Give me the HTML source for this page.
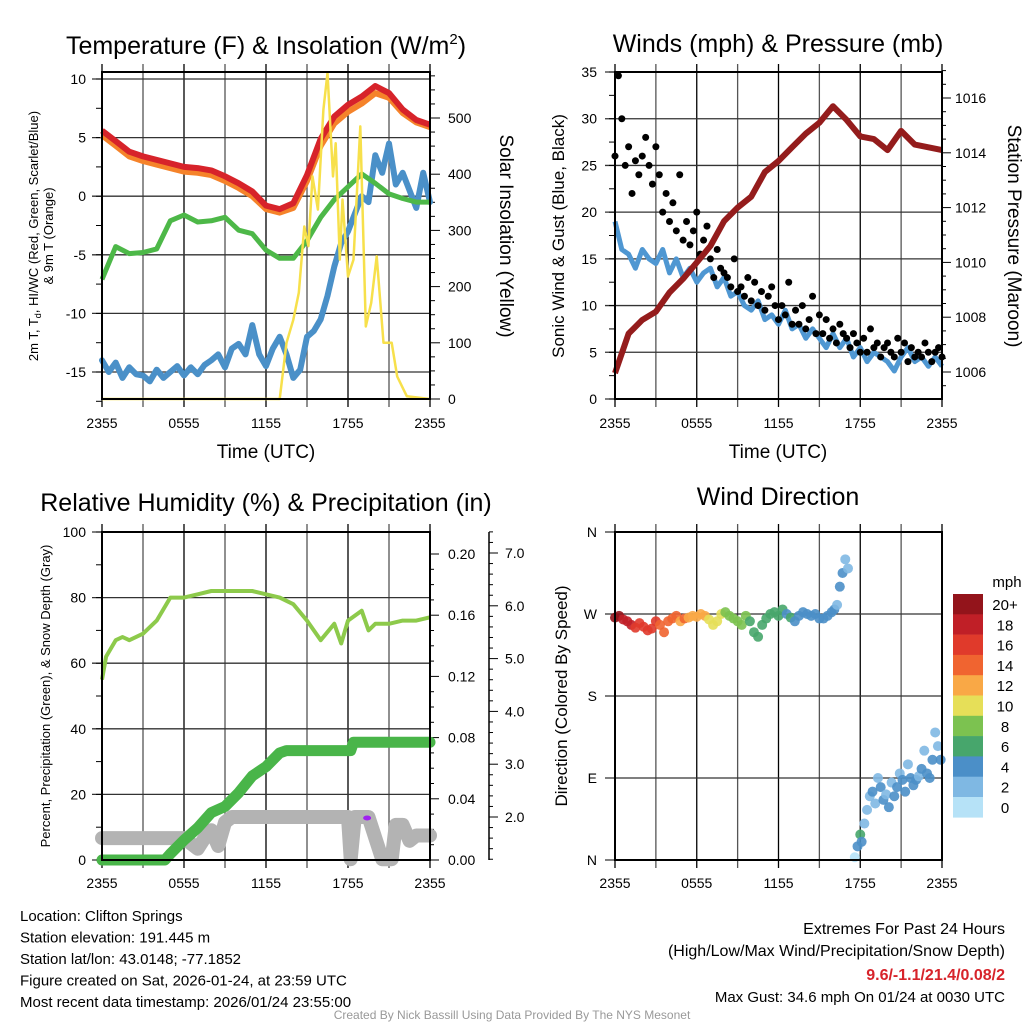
<!DOCTYPE html>
<html><head><meta charset="utf-8"><style>
body{margin:0;background:#fff}
svg{display:block;font-family:"Liberation Sans",sans-serif}
</style></head><body>
<svg id="s" width="1024" height="1024" viewBox="0 0 1024 1024" xmlns="http://www.w3.org/2000/svg">
<rect width="1024" height="1024" fill="#fff"/>
</svg>
<script>
// ---- data (hours since 2355 UTC) ----
const xTickLabels=["2355","0555","1155","1755","2355"];
const hourT=[0,1,2,3,4,5,6,7,8,9,10,11,12,13,14,15,16,17,18,19,20,21,22,23,24];
const tempV=[5.6,4.7,3.8,3.4,3.1,2.8,2.5,2.4,2.2,1.7,1.1,0.4,-0.8,-1.1,-0.6,1.8,4.9,6.8,7.8,8.5,9.4,8.8,7.4,6.5,6.1];
const temp9V=[5.2,4.3,3.4,3.0,2.7,2.4,2.1,2.0,1.8,1.3,0.7,0.0,-1.1,-1.4,-1.0,1.3,4.3,6.2,7.2,7.9,8.8,8.4,7.1,6.3,5.9];
const dewV=[-7.1,-4.3,-4.9,-4.8,-4.5,-2.1,-1.6,-2.2,-2.1,-1.8,-2.9,-3.2,-4.6,-5.3,-5.3,-3.8,-1.8,-0.3,0.8,1.9,1.1,0.2,-0.2,-0.5,-0.5];
const wcV=[-14,-15,-14.2,-15.5,-14.6,-15.2,-15.3,-15.8,-14.8,-15.5,-15,-14.5,-15.3,-14.6,-15.2,-14.4,-14,-13.5,-14.6,-13,-12.6,-13.5,-11,-13.5,-14.5,-13,-12,-13.5,-15.5,-14.8,-12,-11.5,-10.5,-8.5,-6,-4,-3,-1.5,0,-0.5,3.5,2,4.5,1,2,0.5,-1,2,-0.5];
const solarT=[0,13,13.5,14,14.4,14.8,15.1,15.4,15.8,16.2,16.5,16.9,17.1,17.4,17.6,18,18.4,18.9,19.3,19.7,20.1,20.6,21.2,21.6,22.3,24];
const solarV=[0,0,100,141,189,307,272,396,337,515,580,396,455,248,355,218,248,485,129,171,254,100,100,40,5,0];
const windV=[19,16,15.5,14,16,15,14.5,16,13.5,15,13,14,12.5,13.5,14,12,13,11,11.5,10,9.5,10.5,8.5,9,8,9.5,7.5,8,6.5,7.5,6.5,5.5,7,5.5,6.5,4.5,5.5,4,5,4.5,4,3,4.5,5.5,4,4.5,3.5,4.5,3.5];
const gustV=[26,34.6,30,25,27,22,25.5,24,26,28,25,23,27,24,20,22,19,21,18,24,17,19,16.5,18,20,15.5,17,18.5,15,13,16,14,13.5,13,12,15,11.5,12,11,13,10.5,12.5,10,11.5,9.5,11,12,10,8.5,10,9,12.5,8,9.5,8,10,7.5,8.5,11,7,9,7,8.5,6.5,7.5,6,8,7,6.5,5.5,7,6,5,6.5,5,7.5,5.5,6,4.5,5.5,6,5,4.5,6.5,5,6,4,5.5,4.5,5,4.5,6,5,4,5,5.5,4.5];
const presV=[1005.96,1007.4,1007.9,1008.2,1008.9,1009.4,1010.0,1010.6,1011.5,1012.0,1012.4,1013.3,1013.7,1014.2,1014.7,1015.1,1015.7,1015.2,1014.6,1014.5,1014.1,1014.8,1014.3,1014.2,1014.1];
const rhT=[0,0.3,1,1.5,2,3,4,5,6,7,8,9,10,11,12,13,14,15,16,17,17.5,18,19,19.5,20,21,22,23,24];
const rhV=[55,62,67,68,67,69,73,80,80,81,82,82,82,82,81,80,78,73,67,72,66,73,76,70,72,72,73,73,74];
const precipT=[0,4.6,5,6,7,8,9,10,11,12,13,13.5,18.2,18.4,24];
const precipV=[0,0,0.004,0.013,0.021,0.031,0.035,0.044,0.055,0.061,0.070,0.0715,0.0715,0.077,0.077];
const snowT=[0,6,6.5,7,7.5,8,8.5,9,9.5,10,18,18.2,18.5,19,19.5,20.5,21.2,21.5,22,22.5,23,24];
const snowV=[1.6,1.6,1.5,1.4,1.6,1.75,1.45,1.9,2.0,2.0,2.0,1.2,2.0,2.0,2.0,1.2,1.2,1.85,1.85,1.55,1.65,1.65];
const dirT=[0,0.3,0.6,0.9,1.2,1.5,1.8,2.1,2.4,2.7,3,3.3,3.6,3.9,4.2,4.5,4.8,5.1,5.4,5.7,6,6.3,6.6,6.9,7.2,7.5,7.8,8.1,8.4,8.7,9,9.3,9.6,9.9,10.2,10.5,10.8,11.1,11.4,11.7,12,12.3,12.6,12.9,13.2,13.5,13.8,14.1,14.4,14.7,15,15.3,15.6,15.9,16.1,16.3,16.5,16.7,16.9,17.1,17.6,17.8,18.0,18.1,18.3,18.5,18.7,18.9,19.1,19.3,19.5,19.7,19.9,20.1,20.3,20.5,20.7,20.9,21.1,21.3,21.5,21.7,21.9,22.1,22.3,22.5,22.7,22.9,23.1,23.3,23.5,23.7,23.9];
const dirV=[266,268,264,262,258,255,260,256,252,254,262,258,250,262,265,268,262,265,266,268,267,270,268,264,258,262,270,272,268,265,262,258,268,262,250,245,258,265,270,272,268,275,270,266,262,268,272,270,268,270,265,265,268,272,275,280,300,315,330,320,3,15,28,20,40,55,70,75,62,90,80,66,72,58,85,70,80,95,88,75,105,90,82,88,92,100,120,95,90,110,140,125,110];
const dirS=[20,21,19,18,18,17,17,16,17,16,16,15,15,14,15,14,13,14,13,13,12,12,12,11,11,10,10,9,9,8,9,8,8,7,7,6,6,7,6,6,7,6,5,6,5,5,5,4,5,4,4,5,4,4,4,3,4,4,3,2,1,4,6,4,2,3,2,4,2,3,4,4,2,4,3,4,4,2,4,4,3,4,4,4,2,4,2,4,4,4,2,2,4];
const cbLabels=["20+","18","16","14","12","10","8","6","4","2","0"];
const cbColors=["#93141b","#c01f27","#e03a2b","#f06430","#f9a846","#e6df58","#7cc250","#47a66c","#4b8fc8","#7fb8e3","#b6e2f7"];

const S=document.getElementById('s');const NS='http://www.w3.org/2000/svg';
function el(tag,attrs,parent){const e=document.createElementNS(NS,tag);for(const k in attrs)e.setAttribute(k,attrs[k]);(parent||S).appendChild(e);return e;}
function txt(x,y,s,size,anchor,extra){const t=el('text',Object.assign({x:x,y:y,'font-size':size,'text-anchor':anchor||'middle',fill:'#000'},extra||{}));t.textContent=s;return t;}
function linear(d0,d1,r0,r1){return v=>r0+(v-d0)/(d1-d0)*(r1-r0);}
function pathOf(ts,vs,fx,fy){return ts.map((t,i)=>(i?'L':'M')+fx(t).toFixed(1)+','+fy(vs[i]).toFixed(1)).join('');}
function evenT(n){const a=[];for(let i=0;i<n;i++)a.push(i*24/(n-1));return a;}

function frame(L,R,T,B,name){
  const g=el('g',{});
  
  
  for(let i=0;i<=8;i++){const x=L+(R-L)*i/8;el('line',{x1:x,y1:T-8,x2:x,y2:B+8,stroke:i%2?'#555':'#000','stroke-width':1.3},g);}
  return g;
}
function hgrid(L,R,ys,g){ys.forEach(y=>el('line',{x1:L-10,y1:y,x2:R,y2:y,stroke:'#333','stroke-width':1.3},g));}
function xlabels(L,R,y,name){xTickLabels.forEach((s,i)=>{const t=txt(L+(R-L)*i/4,y,s,14);});}
const TS=25;

// ===== Panel 1 =====
{const L=102,R=430,T=72,B=399;
 const fx=linear(0,24,L,R),fy=linear(-15,10,372,79),fs=linear(0,500,399,118);
 const g=frame(L,R,T,B,'temp-panel');
 hgrid(L,R,[10,5,0,-5,-10,-15].map(fy),g);
 for(let v=-17.5;v<=10;v+=2.5)el('line',{x1:L-6,y1:fy(v),x2:L,y2:fy(v),stroke:'#000'},g);
 for(let v=0;v<=575;v+=25)el('line',{x1:R,y1:fs(v),x2:R+(v%100?5:10),y2:fs(v),stroke:'#000'},g);
 [10,5,0,-5,-10,-15].forEach(v=>{const t=txt(86,fy(v)+5,String(v),14,'end');});
 [0,100,200,300,400,500].forEach(v=>{const t=txt(448,fs(v)+5,String(v),14,'start');});
 const w=el('path',{d:pathOf(evenT(wcV.length),wcV,fx,fy),fill:'none',stroke:'#4a90c8','stroke-width':6,'stroke-linejoin':'round','stroke-linecap':'round'});
 
 const d=el('path',{d:pathOf(hourT,dewV,fx,fy),fill:'none',stroke:'#4db848','stroke-width':5,'stroke-linejoin':'round'});
 
 const o=el('path',{d:pathOf(hourT,temp9V,fx,fy),fill:'none',stroke:'#f5832a','stroke-width':6,'stroke-linejoin':'round'});
 
 const r=el('path',{d:pathOf(hourT,tempV,fx,fy),fill:'none',stroke:'#d7232a','stroke-width':6,'stroke-linejoin':'round'});
 
 const y=el('path',{d:pathOf(solarT,solarV,fx,fs),fill:'none',stroke:'#f7e04b','stroke-width':2.5,'stroke-linejoin':'round'});
 
 el('rect',{x:L,y:T,width:R-L,height:B-T,fill:'none',stroke:'#000','stroke-width':2});
 xlabels(L,R,428,'temp');
 const tt=txt(266,54,'Temperature (F) & Insolation (W/m',TS);
 const sup=el('tspan',{'font-size':15,dy:-10});sup.textContent='2';tt.appendChild(sup);
 const sp2=el('tspan',{dy:10});sp2.textContent=')';tt.appendChild(sp2);
 const xl=txt(266,458,'Time (UTC)',19);
 const yl=txt(0,0,'2m T, T',13,'middle',{transform:'translate(38,236) rotate(-90)'});
 const sb=el('tspan',{'font-size':9,dy:3});sb.textContent='d';yl.appendChild(sb);const sb2=el('tspan',{dy:-3});sb2.textContent=', HI/WC (Red, Green, Scarlet/Blue)';yl.appendChild(sb2);
 const yl2=txt(0,0,'& 9m T (Orange)',13,'middle',{transform:'translate(53,236) rotate(-90)'});
 const yr=txt(0,0,'Solar Insolation (Yellow)',19,'middle',{transform:'translate(500,236) rotate(90)'});
}
// ===== Panel 2 =====
{const L=615,R=942,T=72,B=399;
 const fx=linear(0,24,L,R),fy=linear(0,35,399,72),fp=linear(1006,1016,372,98);
 const g=frame(L,R,T,B,'wind-panel');
 hgrid(L,R,[0,5,10,15,20,25,30,35].map(fy),g);
 for(let v=0;v<=35;v+=2.5)el('line',{x1:L-6,y1:fy(v),x2:L,y2:fy(v),stroke:'#000'},g);
 for(let v=1005.5;v<=1017;v+=0.5)el('line',{x1:R,y1:fp(v),x2:R+(v%2?4:9),y2:fp(v),stroke:'#000'},g);
 [0,5,10,15,20,25,30,35].forEach(v=>{const t=txt(597,fy(v)+5,String(v),14,'end');});
 [1006,1008,1010,1012,1014,1016].forEach(v=>{const t=txt(955,fp(v)+5,String(v),14,'start');});
 const w=el('path',{d:pathOf(evenT(windV.length),windV,fx,fy),fill:'none',stroke:'#4f97d2','stroke-width':5,'stroke-linejoin':'round'});
 
 const gt=evenT(gustV.length);
 gustV.forEach((v,i)=>{const c=el('circle',{cx:fx(gt[i]),cy:fy(v),r:3.5,fill:'#000'});
   
   });
 const p=el('path',{d:pathOf(hourT,presV,fx,fp),fill:'none',stroke:'#941c1c','stroke-width':6,'stroke-linejoin':'round'});
 
 el('rect',{x:L,y:T,width:R-L,height:B-T,fill:'none',stroke:'#000','stroke-width':2});
 xlabels(L,R,428,'wind');
 const tt=txt(778,52,'Winds (mph) & Pressure (mb)',TS);
 const xl=txt(778,458,'Time (UTC)',19);
 const yl=txt(0,0,'Sonic Wind & Gust (Blue, Black)',17,'middle',{transform:'translate(564,236) rotate(-90)'});
 const yr=txt(0,0,'Station Pressure (Maroon)',19,'middle',{transform:'translate(1008,236) rotate(90)'});
}
// ===== Panel 3 =====
{const L=102,R=430,T=532,B=860;
 const fx=linear(0,24,L,R),fy=linear(0,100,860,532),fpr=linear(0,0.2,860,554),fsn=linear(2,7,817,553);
 const g=frame(L,R,T,B,'rh-panel');
 hgrid(L,R,[0,20,40,60,80,100].map(fy),g);
 for(let v=0;v<=100;v+=10)el('line',{x1:L-6,y1:fy(v),x2:L,y2:fy(v),stroke:'#000'},g);
 for(let v=0;v<=0.21;v+=0.01)el('line',{x1:R,y1:fpr(v),x2:R+(Math.round(v*100)%4?4:9),y2:fpr(v),stroke:'#000'},g);
 el('line',{x1:489,y1:532,x2:489,y2:860,stroke:'#000','stroke-width':1.5},g);
 for(let v=1.2;v<=7.41;v+=0.2)el('line',{x1:489,y1:fsn(v),x2:489+(Math.abs(v-Math.round(v))<0.01?9:4),y2:fsn(v),stroke:'#000'},g);
 [0,20,40,60,80,100].forEach(v=>{const t=txt(86,fy(v)+5,String(v),14,'end');});
 [0,0.04,0.08,0.12,0.16,0.2].forEach(v=>{const t=txt(448,fpr(v)+5,v.toFixed(2),14,'start');});
 [2,3,4,5,6,7].forEach(v=>{const t=txt(505,fsn(v)+5,v.toFixed(1),14,'start');});
 const sn=el('path',{d:pathOf(snowT,snowV,fx,fsn),fill:'none',stroke:'#b3b3b3','stroke-width':14,'stroke-linejoin':'round','stroke-linecap':'round'});
 
 const pr=el('path',{d:pathOf(precipT,precipV,fx,fpr),fill:'none',stroke:'#49b549','stroke-width':11,'stroke-linejoin':'round','stroke-linecap':'round'});
 
 const pu=el('ellipse',{cx:fx(19.4),cy:818,rx:4,ry:2.5,fill:'#a020f0'});
 const rh=el('path',{d:pathOf(rhT,rhV,fx,fy),fill:'none',stroke:'#8dca4b','stroke-width':4,'stroke-linejoin':'round'});
 
 el('rect',{x:L,y:T,width:R-L,height:B-T,fill:'none',stroke:'#000','stroke-width':2});
 xlabels(L,R,888,'rh');
 const tt=txt(266,511,'Relative Humidity (%) & Precipitation (in)',TS);
 const yl=txt(0,0,'Percent, Precipitation (Green), & Snow Depth (Gray)',13,'middle',{transform:'translate(50,696) rotate(-90)'});
}
// ===== Panel 4 =====
{const L=615,R=942,T=532,B=860;
 const fx=linear(0,24,L,R),fy=linear(0,360,860,532);
 const g=frame(L,R,T,B,'dir-panel');
 hgrid(L,R,[0,90,180,270,360].map(fy),g);
 ['N','E','S','W','N'].forEach((s,i)=>{const t=txt(597,fy(i*90)+5,s,14,'end');});
 dirV.forEach((v,i)=>{const bin=Math.min(10,Math.floor(dirS[i]/2));
   const c=el('circle',{cx:fx(dirT[i]),cy:fy(v),r:5,fill:cbColors[10-bin],'fill-opacity':0.9});
   
   });
 el('rect',{x:L,y:T,width:R-L,height:B-T,fill:'none',stroke:'#000','stroke-width':2});
 xlabels(L,R,888,'dir');
 const tt=txt(778,505,'Wind Direction',TS);
 const yl=txt(0,0,'Direction (Colored By Speed)',17,'middle',{transform:'translate(567,696) rotate(-90)'});
 const u=txt(1007,587,'mph',15);
 cbColors.forEach((c,i)=>{const r=el('rect',{x:953,y:594+i*20.3,width:30,height:20.6,fill:c});
   
   
   const t=txt(1005,594+i*20.3+16,cbLabels[i],15);});
}
// ===== Footer text =====
['Location: Clifton Springs','Station elevation: 191.445 m','Station lat/lon: 43.0148; -77.1852','Figure created on Sat, 2026-01-24, at 23:59 UTC','Most recent data timestamp: 2026/01/24 23:55:00'].forEach((s,i)=>{const t=txt(20,921+i*21.5,s,15,'start');});
[['Extremes For Past 24 Hours',934],['(High/Low/Max Wind/Precipitation/Snow Depth)',956]].forEach(a=>{const t=txt(1005,a[1],a[0],16,'end');});
{const t=txt(1005,980,'9.6/-1.1/21.4/0.08/2',16,'end',{fill:'#d7232a','font-weight':'bold'});}
{const t=txt(1005,1002,'Max Gust: 34.6 mph On 01/24 at 0030 UTC',15,'end');}
{const t=txt(512,1019,'Created By Nick Bassill Using Data Provided By The NYS Mesonet',12,'middle',{fill:'#999'});}
</script>
</body></html>
